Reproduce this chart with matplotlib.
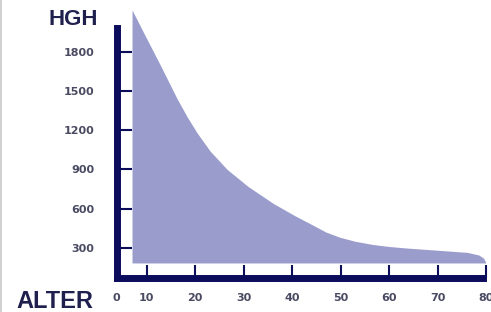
import matplotlib
matplotlib.use('Agg')
import matplotlib.pyplot as plt
from matplotlib.lines import Line2D

# HGH level by age
age = [7, 9.4, 12.8, 16.3, 18.4, 20.4, 23.1, 26.6, 30.9, 36.1, 40.6, 43.7,
       47, 49.9, 53, 56.7, 60, 63.7, 70.5, 76.1, 78.5, 79.5, 79.9]
hgh = [2120, 1945, 1700, 1440, 1300, 1180, 1040, 900, 770, 640, 545, 485,
       420, 380, 350, 325, 310, 298, 280, 265, 245, 220, 190]
base = 184

y_ticks = [300, 600, 900, 1200, 1500, 1800]
x_ticks = [10, 20, 30, 40, 50, 60, 70, 80]

navy = '#0c0c5c'
fill_col = '#9a9ccc'
label_col = '#4a4a62'

fig = plt.figure(figsize=(4.91, 3.12), dpi=100)
fig.patch.set_facecolor('white')
ax = fig.add_axes([0.2373, 0.109, 0.9929 - 0.2373, 0.891])
x0, y0 = 3.8, 69
ax.set_xlim(x0, 80.3)
ax.set_ylim(y0, 2196)
ax.patch.set_alpha(0)

ax.fill_between(age, hgh, base, color=fill_col, linewidth=0)

for s in ['top', 'right']:
    ax.spines[s].set_visible(False)
for s in ['left', 'bottom']:
    ax.spines[s].set_color(navy)
    ax.spines[s].set_linewidth(5)
    ax.spines[s].set_capstyle('projecting')
ax.spines['left'].set_bounds(y0, 1980)
ax.spines['bottom'].set_bounds(x0, 79.4)

ax.set_yticks(y_ticks)
ax.set_yticklabels([str(v) for v in y_ticks])
ax.set_xticks([x0] + x_ticks)
ax.set_xticklabels(['0'] + [str(v) for v in x_ticks])
ax.tick_params(axis='y', direction='in', length=11, width=1.5, color=navy,
               pad=16, labelsize=8, labelcolor=label_col)
ax.tick_params(axis='x', direction='in', length=9.5, width=1.5, color=navy,
               pad=11, labelsize=8, labelcolor=label_col)
for lab in ax.get_xticklabels() + ax.get_yticklabels():
    lab.set_fontweight('bold')

fig.text(0.1996, 0.92, 'HGH', ha='right', va='baseline', fontsize=16,
         fontweight='bold', color='#20204f', family='Liberation Sans')
fig.text(0.189, 0.0128, 'ALTER', ha='right', va='baseline', fontsize=17,
         fontweight='bold', color='#20204f', family='Liberation Sans')

fig.add_artist(Line2D([0.002, 0.002], [0, 1], color='#c8c8c8', lw=1.2,
                      transform=fig.transFigure))

fig.savefig('out.png', dpi=100)
